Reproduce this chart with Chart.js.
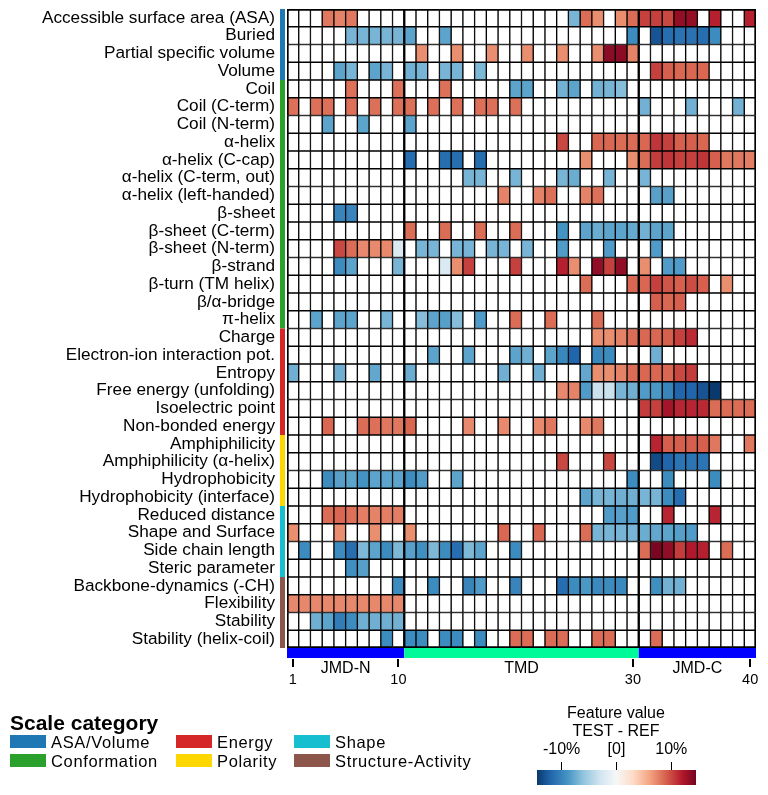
<!DOCTYPE html>
<html>
<head>
<meta charset="utf-8">
<script src="https://cdn.jsdelivr.net/npm/chart.js@4.4.1/dist/chart.umd.min.js"></script>
<style>
  body { margin: 0; background: #fff; font-family: "Liberation Sans", Arial, sans-serif; }
  #wrap { position: relative; width: 768px; height: 795px; overflow: hidden; }
  #heatmap { position: absolute; left: 0; top: 0; }
  .txt { position: absolute; white-space: nowrap; color: #000; line-height: 1; transform: translateY(-50%); }
  .swatch { position: absolute; }
</style>
</head>
<body>
<div id="wrap">
  <canvas id="heatmap" width="768" height="795"></canvas>
</div>
<script>
// ---- data ----
const features = [
  'Accessible surface area (ASA)', 'Buried', 'Partial specific volume', 'Volume',
  'Coil', 'Coil (C-term)', 'Coil (N-term)', 'α-helix', 'α-helix (C-cap)',
  'α-helix (C-term, out)', 'α-helix (left-handed)', 'β-sheet', 'β-sheet (C-term)',
  'β-sheet (N-term)', 'β-strand', 'β-turn (TM helix)', 'β/α-bridge', 'π-helix',
  'Charge', 'Electron-ion interaction pot.', 'Entropy', 'Free energy (unfolding)',
  'Isoelectric point', 'Non-bonded energy',
  'Amphiphilicity', 'Amphiphilicity (α-helix)', 'Hydrophobicity', 'Hydrophobicity (interface)',
  'Reduced distance', 'Shape and Surface', 'Side chain length', 'Steric parameter',
  'Backbone-dynamics (-CH)', 'Flexibility', 'Stability', 'Stability (helix-coil)'
];

const categories = ['ASA/Volume', 'Conformation', 'Energy', 'Polarity', 'Shape', 'Structure-Activity'];
const categoryColors = ['#1f77b4', '#2ca02c', '#d62728', '#ffd700', '#17becf', '#8c564b'];
const categoryRows = [4, 14, 6, 4, 4, 4]; // features per category, in order

const nPositions = 40;
const positionTicks = [1, 10, 30, 40];
const regions = ['JMD-N', 'TMD', 'JMD-C'];
const regionEnds = [10, 30, 40];
const regionColors = ['#0000ff', '#00fa9a', '#0000ff'];

// feature value (TEST - REF, %) per feature: [position, value]; empty cells are 0
const cellValues = [
  [[4,8],[5,7.5],[6,8],[25,-7],[26,8.5],[27,7],[29,7],[30,8.5],[31,10.3],[32,10.3],[33,10],[34,13.2],[35,13.2],[37,11.7],[40,11.7]],
  [[6,-7],[7,-7],[8,-7],[9,-7],[10,-7],[11,-8],[14,-8],[30,-9.5],[32,-13],[33,-11.5],[34,-11.2],[35,-11.2],[36,-11.5],[37,-9.5]],
  [[12,7],[15,7],[18,7],[21,7],[24,7],[27,7],[28,13.5],[29,13.5],[30,7.5]],
  [[5,-8],[6,-7],[8,-8],[9,-7],[11,-7.2],[12,-7],[14,-7],[15,-7],[17,-6.8],[32,10.3],[33,9],[34,8.7],[35,8.7],[36,8.7]],
  [[6,8.3],[10,8.3],[14,8.3],[20,-8],[21,-8],[24,-7.2],[25,-8],[27,-7.2],[28,-7],[29,-6.5]],
  [[1,8.3],[3,8.3],[4,8.3],[6,8.3],[8,8.3],[10,8.3],[11,8.3],[13,8.3],[15,8.3],[17,8.3],[18,8.3],[20,8.3],[31,-7.2],[35,-7.2],[39,-7.2]],
  [[4,-8],[7,-8],[11,-8]],
  [[24,10],[27,8.7],[28,8.7],[29,8.5],[30,8.5],[31,8.7],[32,10.8],[33,10.3],[34,9],[35,9],[36,8.7]],
  [[11,-11.5],[14,-11.5],[15,-11.5],[17,-11.5],[26,7],[30,7],[31,8.5],[32,10.5],[33,10.8],[34,10.3],[35,10.3],[36,10.8],[37,9],[38,8],[39,8],[40,7.7]],
  [[16,-7],[17,-7],[20,-7],[24,-7],[25,-7.5],[28,-7],[31,-7]],
  [[19,7.5],[22,7.5],[23,8.3],[26,7.5],[27,8.3],[32,-8.2],[33,-8.2]],
  [[5,-10],[6,-10]],
  [[11,8.5],[14,8.5],[17,8.5],[20,8.5],[24,-9],[26,-8],[27,-7.5],[28,-8],[29,-8],[30,-7.7],[31,-7.2],[32,-8],[33,-8]],
  [[5,10],[6,8.5],[7,7.2],[8,7.2],[9,7.2],[10,-2.2],[12,-7],[13,-7],[15,-7],[16,-7],[18,-7],[19,-7],[21,-7],[24,-8.5],[28,-8.5],[32,-8.5]],
  [[5,-9.5],[6,-8],[10,-7],[14,-2.2],[15,7],[16,10.3],[20,10.3],[24,11.7],[25,7],[27,13.3],[28,10.3],[29,13.3],[31,7],[33,-8.5],[34,-8.5]],
  [[26,8.5],[30,8.7],[31,8.7],[32,10.3],[33,9.5],[34,9],[35,9.8],[36,9],[38,7]],
  [[32,9],[33,8.7],[34,9]],
  [[3,-8],[5,-8],[6,-8],[9,-7],[12,-6.5],[13,-8],[14,-8.3],[15,-6.5],[17,-8.5],[20,8.5],[23,8.5],[27,8.5]],
  [[27,7],[28,7],[29,7.5],[30,8.5],[31,8.7],[32,8.7],[33,9],[34,10.3],[35,11.2]],
  [[13,-8],[16,-8],[20,-8],[21,-7.3],[23,-8],[24,-9.8],[25,-12],[27,-9.8],[28,-9.5],[32,-7.3]],
  [[1,-7.3],[5,-7.3],[8,-7.8],[11,-7.5],[19,-7.3],[22,-7.3],[26,-7.8],[27,7],[28,7],[29,7.5],[30,8.5],[31,8.7],[32,8.7],[33,8.7],[34,10],[35,10.5]],
  [[24,7.2],[25,7.5],[26,-8.5],[27,-3.3],[28,-3.3],[29,-7],[30,-7.3],[31,-8.5],[32,-8.7],[33,-10],[34,-12],[35,-12],[36,-13],[37,-14.5]],
  [[31,10.5],[32,10.3],[33,12.5],[34,11.5],[35,11.5],[36,11.3],[37,8.5],[38,8.5],[39,8.5],[40,8.5]],
  [[4,8.7],[7,8.5],[8,8.3],[9,8],[10,8],[11,8.7],[16,7.2],[19,7.2],[22,7.2],[23,8],[26,7.2],[27,8]],
  [[32,11.5],[33,9],[34,9],[35,9],[36,9],[37,8],[40,8]],
  [[24,10],[28,10],[32,-13.5],[33,-12],[34,-11],[35,-11],[36,-11]],
  [[4,-9.5],[5,-8.2],[6,-8],[7,-9],[8,-8],[9,-8],[10,-8],[11,-9.5],[12,-8.5],[15,-8],[30,-9.5],[33,-9.5],[37,-9.5]],
  [[26,-8],[27,-7],[28,-7],[29,-7.3],[30,-7.3],[31,-7],[32,-7],[33,-9.5],[34,-11.5]],
  [[4,8.5],[5,8.7],[6,8.3],[7,7.7],[8,7.5],[9,7.7],[10,7.7],[28,-8.5],[29,-8.2],[30,-8.5],[33,11.5],[37,11.5]],
  [[1,7],[5,7],[8,7],[11,7],[19,8.7],[22,8.7],[26,8.5],[27,-7],[28,-7],[29,-7],[30,-7],[31,-7.5],[32,-7.8],[33,-8],[34,-8.3],[35,-8.5]],
  [[2,-9.5],[5,-9.5],[6,-11.5],[7,-6.8],[8,-8],[9,-9.5],[10,-6.8],[11,-8.2],[12,-9.3],[13,-6.8],[14,-9.5],[15,-11.5],[16,-6.8],[17,-8],[20,-9.5],[31,8.5],[32,14.2],[33,13.3],[34,10.5],[35,12],[36,11.7],[38,8.5]],
  [[6,-9.3],[7,-8.3]],
  [[10,-9.5],[13,-9.5],[16,-10],[17,-8.5],[20,-10],[24,-11.5],[25,-9.5],[26,-8.7],[27,-9.7],[28,-9.5],[29,-9.7],[32,-9.3],[33,-7.2],[34,-7.2]],
  [[1,7.3],[2,7.3],[3,7.3],[4,7.3],[5,7.3],[6,7.3],[7,7.3],[8,7.3],[9,7.3],[10,7.3]],
  [[3,-7.3],[4,-8],[5,-10.5],[6,-9.5],[7,-7.3],[8,-7.3],[9,-7.3],[10,-7.2]],
  [[9,-9.5],[11,-9.5],[12,-9.5],[14,-9.5],[15,-9.5],[17,-9.5],[20,8.5],[21,8.5],[23,8.5],[24,8.5],[27,8.5],[28,8.5],[32,8.5]]
];

const colorbarTicks = [-10, 0, 10];
const colorbarTickLabels = ['-10%', '[0]', '10%'];

// ---- colour map (RdBu reversed) ----
const colorStops = ['#053061', '#2166ac', '#4393c3', '#92c5de', '#d1e5f0', '#f7f7f7',
                    '#fddbc7', '#f4a582', '#d6604d', '#b2182b', '#67001f'];
const colorLimit = 15;
const colorbarRange = 14.5;

function hexToRgb(h) {
  const n = parseInt(h.slice(1), 16);
  return [(n >> 16) & 255, (n >> 8) & 255, n & 255];
}

function valueColor(v) {
  if (!v) return '#ffffff';
  const t = (Math.max(-colorLimit, Math.min(colorLimit, v)) + colorLimit) / (2 * colorLimit) * (colorStops.length - 1);
  const i = Math.min(colorStops.length - 2, Math.floor(t));
  const f = t - i;
  const a = hexToRgb(colorStops[i]), b = hexToRgb(colorStops[i + 1]);
  return 'rgb(' + a.map((c, k) => Math.round(c + (b[k] - c) * f)).join(',') + ')';
}

// dense grid from the sparse lists
const valueGrid = features.map((f, r) => {
  const row = new Array(nPositions).fill(0);
  cellValues[r].forEach(([pos, v]) => { row[pos - 1] = v; });
  return row;
});

const FONT = '"Liberation Sans", Arial, sans-serif';

const datasets = [];
for (let c = 0; c < nPositions; c++) {
  datasets.push({
    label: 'Position ' + (c + 1),
    data: features.map(() => 1),
    backgroundColor: features.map((f, r) => valueColor(valueGrid[r][c])),
    borderColor: '#000',
    borderWidth: (ctx) => ({
      top: ctx.dataIndex === 0 ? 2 : 1,
      bottom: ctx.dataIndex === features.length - 1 ? 2 : 1,
      left: c === 0 ? 2 : (regionEnds.includes(c) ? 1.5 : 1),
      right: c === nPositions - 1 ? 2 : (regionEnds.includes(c + 1) ? 1.5 : 1)
    }),
    borderSkipped: false,
    barPercentage: 1,
    categoryPercentage: 1
  });
}

// category strip, region band, position tick marks and region names
const decorations = {
  id: 'decorations',
  afterDraw(chart) {
    const { ctx, chartArea: a, scales: { x } } = chart;
    const rowH = (a.bottom - a.top) / features.length;
    ctx.save();
    let start = 0;
    categoryRows.forEach((n, i) => {
      ctx.fillStyle = categoryColors[i];
      ctx.fillRect(280, a.top + start * rowH, 5, n * rowH);
      start += n;
    });
    let from = 0;
    ctx.font = '16px ' + FONT;
    ctx.textAlign = 'center';
    ctx.textBaseline = 'middle';
    regionEnds.forEach((end, i) => {
      const x0 = x.getPixelForValue(from), x1 = x.getPixelForValue(end);
      ctx.fillStyle = regionColors[i];
      ctx.fillRect(x0, a.bottom, x1 - x0, 10);
      ctx.fillStyle = '#000';
      ctx.fillText(regions[i], (x0 + x1) / 2, a.bottom + 20.5);
      from = end;
    });
    ctx.strokeStyle = '#000';
    ctx.lineWidth = 2;
    positionTicks.forEach(p => {
      const px = Math.round(x.getPixelForValue(p - 0.5));
      ctx.beginPath();
      ctx.moveTo(px, a.bottom + 11);
      ctx.lineTo(px, a.bottom + 19);
      ctx.stroke();
    });
    ctx.restore();
  }
};

function noOverhang(axis) {
  axis.paddingTop = 0;
  axis.paddingBottom = 0;
  axis.paddingLeft = 0;
  axis.paddingRight = 0;
}

new Chart(document.getElementById('heatmap'), {
  type: 'bar',
  data: { labels: features, datasets: datasets },
  options: {
    indexAxis: 'y',
    responsive: false,
    animation: false,
    events: [],
    layout: { padding: { top: 9, right: 12, bottom: 0, left: 0 } },
    plugins: { legend: { display: false }, tooltip: { enabled: false } },
    scales: {
      x: {
        type: 'linear',
        stacked: true,
        min: 0,
        max: nPositions,
        grid: { display: false, drawTicks: false },
        border: { display: false },
        afterBuildTicks: (axis) => { axis.ticks = positionTicks.map(p => ({ value: p - 0.5 })); },
        afterFit: (axis) => { axis.height = 147; noOverhang(axis); },
        ticks: {
          autoSkip: false,
          maxRotation: 0,
          padding: 23,
          color: '#000',
          font: { family: FONT, size: 14.5 },
          callback: (v) => String(Math.round(v + 0.5))
        }
      },
      y: {
        type: 'category',
        stacked: true,
        grid: { display: false, drawTicks: false },
        border: { display: false },
        afterFit: (axis) => { axis.width = 287; noOverhang(axis); },
        ticks: {
          autoSkip: false,
          padding: 12,
          color: '#000',
          font: { family: FONT, size: 17.2 }
        }
      }
    }
  },
  plugins: [decorations]
});

// ---- legend and colour bar (HTML) ----
const wrap = document.getElementById('wrap');
function addText(text, x, y, size, opts = {}) {
  const d = document.createElement('div');
  d.className = 'txt';
  d.textContent = text;
  d.style.fontSize = size + 'px';
  d.style.top = y + 'px';
  d.style.left = x + 'px';
  if (opts.bold) d.style.fontWeight = 'bold';
  if (opts.spacing) d.style.letterSpacing = opts.spacing + 'px';
  if (opts.center) d.style.transform = 'translate(-50%, -50%)';
  wrap.appendChild(d);
}
function addBox(x, y, w, h, bg) {
  const d = document.createElement('div');
  d.className = 'swatch';
  Object.assign(d.style, { left: x + 'px', top: y + 'px', width: w + 'px', height: h + 'px', background: bg });
  wrap.appendChild(d);
}

addText('Scale category', 10, 722, 21, { bold: true });
const legendX = [10, 176, 294];
const legendY = [742, 761];
categories.forEach((name, i) => {
  const lx = legendX[Math.floor(i / 2)], ly = legendY[i % 2];
  addBox(lx, ly - 7, 36, 13, categoryColors[i]);
  addText(name, lx + 41, ly, 16.5, { spacing: 0.65 });
});

const cbLeft = 537, cbWidth = 159, cbTop = 770, cbHeight = 15;
const cbPx = (v) => cbLeft + (v + colorbarRange) / (2 * colorbarRange) * cbWidth;
const gradStops = [];
for (let k = 0; k <= 58; k++) {
  const v = -colorbarRange + k * (2 * colorbarRange / 58);
  gradStops.push(valueColor(v === 0 ? 1e-6 : v) + ' ' + (k / 58 * 100).toFixed(2) + '%');
}
addBox(cbLeft, cbTop, cbWidth, cbHeight, 'linear-gradient(to right, ' + gradStops.join(', ') + ')');
addText('Feature value', 616, 713, 16, { center: true });
addText('TEST - REF', 616, 731, 16, { center: true });
colorbarTicks.forEach((t, i) => {
  const px = cbPx(t);
  addBox(px - 0.75, cbTop - 8, 1.5, 8, '#000');
  addText(colorbarTickLabels[i], px, 749, 16, { center: true });
});
</script>
</body>
</html>
